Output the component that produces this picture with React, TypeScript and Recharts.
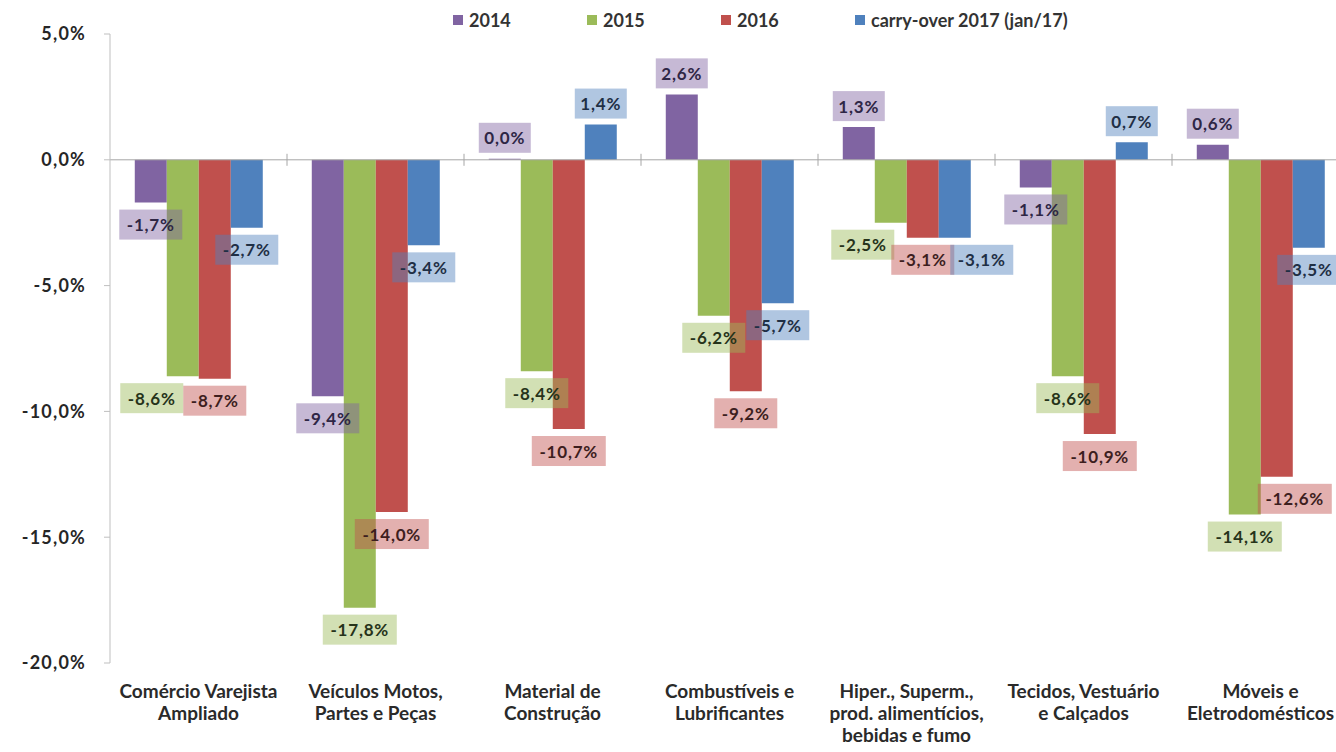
import React from "react";
import { BarChart, Bar, XAxis, YAxis, ReferenceLine, LabelList } from "recharts";

// categories (line breaks as in the original axis labels)
const CATEGORIES = [
  "Comércio Varejista\nAmpliado",
  "Veículos Motos,\nPartes e Peças",
  "Material de\nConstrução",
  "Combustíveis e\nLubrificantes",
  "Hiper., Superm.,\nprod. alimentícios,\nbebidas e fumo",
  "Tecidos, Vestuário\ne Calçados",
  "Móveis e\nEletrodomésticos",
];

const Y2014 = [-1.7, -9.4, 0.0, 2.6, 1.3, -1.1, 0.6];
const Y2015 = [-8.6, -17.8, -8.4, -6.2, -2.5, -8.6, -14.1];
const Y2016 = [-8.7, -14.0, -10.7, -9.2, -3.1, -10.9, -12.6];
const CARRY_2017 = [-2.7, -3.4, 1.4, -5.7, -3.1, 0.7, -3.5];

const Y_TICKS = [-20, -15, -10, -5, 0, 5];

const SERIES = [
  { key: "y2014", name: "2014", color: "#8064A2", text: "#2E2645" },
  { key: "y2015", name: "2015", color: "#9BBB59", text: "#26331A" },
  { key: "y2016", name: "2016", color: "#C0504D", text: "#3D1E1E" },
  { key: "carry", name: "carry-over 2017 (jan/17)", color: "#4F81BD", text: "#1F2F45" },
];

const data = CATEGORIES.map((name, i) => ({
  name,
  y2014: Y2014[i],
  y2015: Y2015[i],
  y2016: Y2016[i],
  carry: CARRY_2017[i],
}));

// hand-moved labels in the original (horizontal nudge, px)
const LABEL_NUDGE: Record<string, number> = {
  "y2015-0": -31,
  "y2015-4": -28,
  "carry-4": 27,
  "y2016-6": 18,
};

const FONT = "Lato, 'Open Sans', sans-serif";
const W = 1360;
const H = 752;
const MARGIN = { top: 34, right: 11, bottom: 9, left: 10 };
const Y_AXIS_W = 100;
const X_AXIS_H = 80;
const PLOT_W = W - MARGIN.left - MARGIN.right - Y_AXIS_W;
const PLOT_H = H - MARGIN.top - MARGIN.bottom - X_AXIS_H;
const Y_MIN = -20;
const Y_MAX = 5;
const ZERO_Y = MARGIN.top + (Y_MAX / (Y_MAX - Y_MIN)) * PLOT_H;
const BAND = PLOT_W / CATEGORIES.length;

const fmt = (v: number) => v.toFixed(1).replace(".", ",") + "%";

function makeLabel(key: string, color: string, textColor: string) {
  return (props: any) => {
    const { x, y, width, height, value, index } = props;
    const v = Number(value);
    const top = Math.min(y, y + height);
    const bottom = Math.max(y, y + height);
    const cx = x + width / 2 + (LABEL_NUDGE[`${key}-${index}`] ?? 0);
    const cy = v >= 0 ? top - 21 : bottom + 22;
    const text = fmt(v);
    const w = text.length * 11 + 8;
    return (
      <g>
        <rect x={cx - w / 2} y={cy - 15} width={w} height={30} fill={color} fillOpacity={0.45} />
        <text
          x={cx}
          y={cy}
          textAnchor="middle"
          dominantBaseline="central"
          fontFamily={FONT}
          fontWeight={700}
          fontSize={17}
          letterSpacing={0.8}
          fill={textColor}
        >
          {text}
        </text>
      </g>
    );
  };
}

function CategoryTick(props: any) {
  const { x, y, payload, index } = props;
  const lines = String(payload.value).split("\n");
  return (
    <g>
      {index > 0 && (
        <line x1={x - BAND / 2} x2={x - BAND / 2} y1={ZERO_Y - 6} y2={ZERO_Y + 6} stroke="#A6A6A6" />
      )}
      <text textAnchor="middle" fontFamily={FONT} fontWeight={700} fontSize={19} fill="#2A2A2A">
        {lines.map((l, i) => (
          <tspan key={i} x={x} y={y + 35 + i * 22}>
            {l}
          </tspan>
        ))}
      </text>
    </g>
  );
}

function LegendRow() {
  return (
    <div
      style={{
        position: "absolute",
        top: 10,
        left: 453,
        display: "flex",
        fontFamily: FONT,
        fontWeight: 700,
        fontSize: 18,
        color: "#333",
        lineHeight: "20px",
      }}
    >
      {SERIES.map((s, i) => (
        <div key={s.key} style={{ display: "flex", alignItems: "center", width: i < 3 ? 134 : "auto" }}>
          <span style={{ width: 10, height: 10, background: s.color, marginRight: 6, display: "inline-block" }} />
          <span>{s.name}</span>
        </div>
      ))}
    </div>
  );
}

export default function App() {
  return (
    <div
      style={{
        position: "absolute",
        left: 0,
        top: 0,
        width: 1336,
        height: 752,
        overflow: "hidden",
        background: "#fff",
      }}
    >
      <BarChart width={W} height={H} data={data} margin={MARGIN} barCategoryGap="14%" barGap={0}>
        <XAxis
          dataKey="name"
          axisLine={false}
          tickLine={false}
          tickSize={0}
          tickMargin={0}
          interval={0}
          height={X_AXIS_H}
          tick={<CategoryTick />}
        />
        <YAxis
          width={Y_AXIS_W}
          domain={[Y_MIN, Y_MAX]}
          ticks={Y_TICKS}
          allowDataOverflow
          tickFormatter={fmt}
          axisLine={{ stroke: "#BFBFBF" }}
          tickLine={{ stroke: "#BFBFBF" }}
          tickSize={6}
          tickMargin={18}
          tick={{ fontFamily: FONT, fontWeight: 700, fontSize: 18, fill: "#262626", letterSpacing: 1.2 }}
        />
        {SERIES.map((s) => (
          <Bar
            key={s.key}
            dataKey={s.key}
            name={s.name}
            fill={s.color}
            minPointSize={(v: number) => (v === 0 ? 1 : 0)}
            isAnimationActive={false}
          >
            <LabelList dataKey={s.key} content={makeLabel(s.key, s.color, s.text)} />
          </Bar>
        ))}
        <ReferenceLine y={0} stroke="#A6A6A6" />
      </BarChart>
      <LegendRow />
    </div>
  );
}
